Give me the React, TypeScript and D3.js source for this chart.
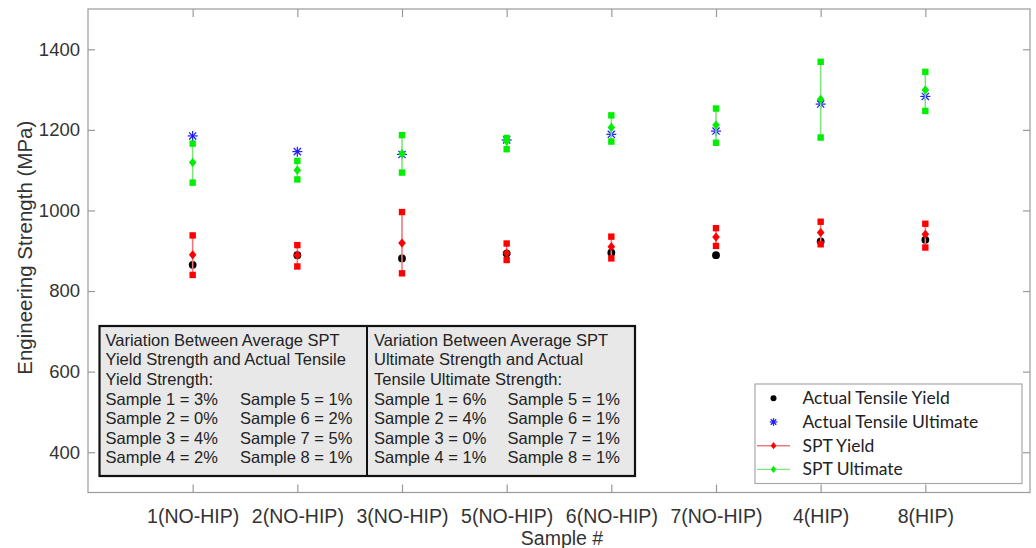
import { useRef, useEffect } from "react";
import * as d3 from "d3";

// --- chart data (MPa) ---
const samples = ["1(NO-HIP)", "2(NO-HIP)", "3(NO-HIP)", "5(NO-HIP)", "6(NO-HIP)", "7(NO-HIP)", "4(HIP)", "8(HIP)"];
const actualYield = [865, 889, 881, 893, 895, 889, 923, 927];
const actualUltimate = [1185, 1146, 1139, 1175, 1189, 1197, 1264, 1283];
const sptYield = [890, 889, 919, 894, 910, 934, 945, 941];
const sptYieldLow = [840, 861, 844, 877, 881, 912, 916, 908];
const sptYieldHigh = [938, 914, 996, 918, 935, 956, 972, 967];
const sptUltimate = [1119, 1100, 1141, 1172, 1206, 1212, 1276, 1299];
const sptUltimateLow = [1069, 1077, 1094, 1152, 1171, 1168, 1181, 1247];
const sptUltimateHigh = [1166, 1123, 1187, 1180, 1236, 1253, 1369, 1344];
const yTicks = [400, 600, 800, 1000, 1200, 1400];

const yieldNote = ["Variation Between Average SPT", "Yield Strength and Actual Tensile", "Yield Strength:"];
const yieldPct = ["3%", "0%", "4%", "2%", "1%", "2%", "5%", "1%"];
const ultNote = ["Variation Between Average SPT", "Ultimate Strength and Actual", "Tensile Ultimate Strength:"];
const ultPct = ["6%", "4%", "0%", "1%", "1%", "1%", "1%", "1%"];

const legendItems = ["Actual Tensile Yield", "Actual Tensile Ultimate", "SPT Yield", "SPT Ultimate"];

const W = 1036;
const H = 548;
const AX = "#9a9a9a";
const TXT = "#333333";
const FONT = "'Liberation Sans', Arial, sans-serif";

function diamond(w: number, h: number) {
  return `M0,${-h}L${w},0L0,${h}L${-w},0Z`;
}

function star(g: any, cx: number, cy: number, r: number) {
  const d = r * 0.72;
  const segs = [[-r, 0, r, 0], [0, -r, 0, r], [-d, -d, d, d], [-d, d, d, -d]];
  g.selectAll(null)
    .data(segs)
    .join("line")
    .attr("x1", (s: number[]) => cx + s[0])
    .attr("y1", (s: number[]) => cy + s[1])
    .attr("x2", (s: number[]) => cx + s[2])
    .attr("y2", (s: number[]) => cy + s[3])
    .attr("stroke", "#1a1aff")
    .attr("stroke-width", 1.2);
}

function drawChart(svgEl: SVGSVGElement) {
  const svg = d3.select(svgEl);
  svg.selectAll("*").remove();

  const left = 88, right = 1030, top = 9, bottom = 492.5;
  const x = d3.scaleLinear().domain([0, samples.length + 1]).range([left, right]);
  const y = d3.scaleLinear().domain([300, 1500]).range([bottom, top]);
  const idx = samples.map((_, i) => i + 1);

  svg.append("rect").attr("width", W).attr("height", H).attr("fill", "#fff");

  // axes box
  svg.append("rect")
    .attr("x", left).attr("y", top)
    .attr("width", right - left).attr("height", bottom - top)
    .attr("fill", "none").attr("stroke", AX).attr("stroke-width", 1.2);

  const yAxis = svg.append("g")
    .attr("transform", `translate(${left},0)`)
    .call(d3.axisLeft(y).tickValues(yTicks).tickFormat(d3.format("d")).tickSizeInner(-7).tickSizeOuter(0).tickPadding(8));
  const xAxis = svg.append("g")
    .attr("transform", `translate(0,${bottom})`)
    .call(d3.axisBottom(x).tickValues(idx).tickFormat((d: any) => samples[d - 1]).tickSizeInner(-8).tickSizeOuter(0).tickPadding(17));
  // mirrored ticks on top / right
  svg.append("g")
    .attr("transform", `translate(0,${top})`)
    .call(d3.axisTop(x).tickValues(idx).tickFormat(() => "").tickSizeInner(-8).tickSizeOuter(0));
  svg.append("g")
    .attr("transform", `translate(${right},0)`)
    .call(d3.axisRight(y).tickValues(yTicks).tickFormat(() => "").tickSizeInner(-7).tickSizeOuter(0));

  svg.selectAll(".domain").remove();
  svg.selectAll(".tick line").attr("stroke", AX).attr("stroke-width", 1.2);
  yAxis.selectAll("text").attr("font-size", 18.5).attr("font-family", FONT).attr("fill", TXT);
  xAxis.selectAll("text").attr("font-size", 19.5).attr("font-family", FONT).attr("fill", TXT);

  // axis titles
  svg.append("text")
    .attr("transform", `translate(32,${(top + bottom) / 2 - 3}) rotate(-90)`)
    .attr("text-anchor", "middle")
    .attr("font-family", FONT).attr("font-size", 20.5).attr("fill", TXT)
    .text("Engineering Strength (MPa)");
  svg.append("text")
    .attr("x", (left + right) / 2 + 3).attr("y", 545)
    .attr("text-anchor", "middle")
    .attr("font-family", FONT).attr("font-size", 19.5).attr("fill", TXT)
    .text("Sample #");

  const plot = svg.append("g");

  // actual tensile values
  plot.selectAll(null).data(idx).join("circle")
    .attr("cx", (d) => x(d)).attr("cy", (_, i) => y(actualYield[i]))
    .attr("r", 3.9).attr("fill", "#000");
  idx.forEach((d, i) => star(plot, x(d), y(actualUltimate[i]), 5));

  // SPT series with range bars
  const spt = [
    { mean: sptYield, low: sptYieldLow, high: sptYieldHigh, mark: "#ff0000", line: "#f07a7a" },
    { mean: sptUltimate, low: sptUltimateLow, high: sptUltimateHigh, mark: "#00ee00", line: "#7fe47f" },
  ];
  spt.forEach((s) => {
    const g = plot.append("g");
    g.selectAll(null).data(idx).join("line")
      .attr("x1", (d) => x(d)).attr("x2", (d) => x(d))
      .attr("y1", (_, i) => y(s.low[i])).attr("y2", (_, i) => y(s.high[i]))
      .attr("stroke", s.line).attr("stroke-width", 1.6);
    [s.low, s.high].forEach((arr) => {
      g.selectAll(null).data(idx).join("rect")
        .attr("x", (d) => x(d) - 3.2).attr("y", (_, i) => y(arr[i]) - 3.2)
        .attr("width", 6.4).attr("height", 6.4).attr("fill", s.mark);
    });
    g.selectAll(null).data(idx).join("path")
      .attr("transform", (d, i) => `translate(${x(d)},${y(s.mean[i])})`)
      .attr("d", diamond(3.8, 4.6)).attr("fill", s.mark);
  });

  // annotation box
  const bx = 99.5, by = 326, bw = 535.5, bh = 150, mid = 367;
  const note = svg.append("g").attr("font-family", FONT).attr("font-size", 16.5).attr("fill", "#222");
  note.append("rect").attr("x", bx).attr("y", by).attr("width", bw).attr("height", bh)
    .attr("fill", "#e8e8e8").attr("stroke", "#111").attr("stroke-width", 2.2);
  note.append("line").attr("x1", mid).attr("x2", mid).attr("y1", by).attr("y2", by + bh)
    .attr("stroke", "#111").attr("stroke-width", 2);
  const rowY = (r: number) => 345.7 + r * 19.6;
  const block = (lines: string[], pct: string[], x0: number, x1: number) => {
    lines.forEach((t, r) => note.append("text").attr("x", x0).attr("y", rowY(r)).text(t));
    pct.forEach((p, k) => {
      const col = k < 4 ? x0 : x1;
      note.append("text").attr("x", col).attr("y", rowY(3 + (k % 4))).text(`Sample ${k + 1} = ${p}`);
    });
  };
  block(yieldNote, yieldPct, 105.5, 240);
  block(ultNote, ultPct, 374, 507.5);

  // legend
  const lg = svg.append("g");
  lg.append("rect").attr("x", 755).attr("y", 384).attr("width", 267).attr("height", 99.5)
    .attr("fill", "#fff").attr("stroke", "#a8a8a8").attr("stroke-width", 1.2);
  const ly = (i: number) => 398.3 + i * 23.7;
  const mx = 773.5;
  lg.append("circle").attr("cx", mx).attr("cy", ly(0)).attr("r", 3).attr("fill", "#000");
  star(lg, mx, ly(1), 3.8);
  [["#f07a7a", "#ff0000"], ["#7fe47f", "#00ee00"]].forEach(([lc, mc], k) => {
    const yy = ly(2 + k);
    lg.append("line").attr("x1", 757).attr("x2", 790).attr("y1", yy).attr("y2", yy)
      .attr("stroke", lc).attr("stroke-width", 1.4);
    lg.append("path").attr("transform", `translate(${mx},${yy})`).attr("d", diamond(2.8, 3.6)).attr("fill", mc);
  });
  legendItems.forEach((t, i) => {
    lg.append("text").attr("x", 802.5).attr("y", ly(i) + 6)
      .attr("font-family", "Lato, 'Open Sans', sans-serif").attr("font-size", 17.5).attr("fill", "#222")
      .text(t);
  });
}

export default function App() {
  const ref = useRef<SVGSVGElement>(null);

  useEffect(() => {
    if (ref.current) drawChart(ref.current);
  }, []);

  return (
    <svg ref={ref} width={W} height={H} style={{ position: "absolute", left: 0, top: 0 }}></svg>
  );
}
